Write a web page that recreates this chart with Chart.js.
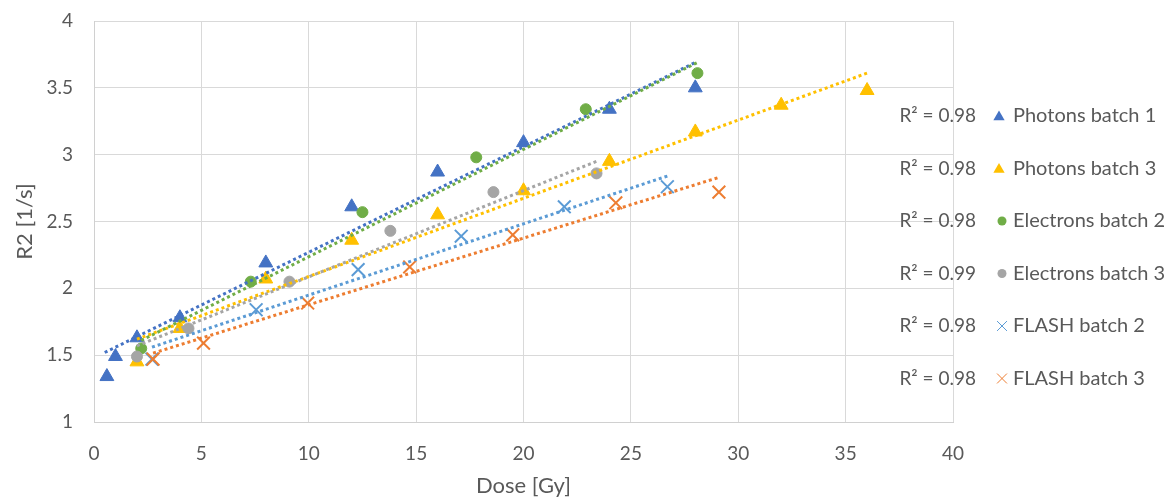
<!DOCTYPE html>
<html>
<head>
<meta charset="utf-8">
<script src="https://cdn.jsdelivr.net/npm/chart.js@4/dist/chart.umd.min.js"></script>
<style>
  html, body { margin: 0; padding: 0; background: #fff; }
  #wrap { width: 1169px; height: 497px; position: relative; }
</style>
</head>
<body>
<div id="wrap"><canvas id="r2-chart"></canvas></div>
<script>
// R2 relaxation rate vs dose, per beam / batch
const seriesNames = ['Photons batch 1', 'Photons batch 3', 'Electrons batch 2', 'Electrons batch 3', 'FLASH batch 2', 'FLASH batch 3'];
const rSquared = [0.98, 0.98, 0.98, 0.99, 0.98, 0.98];

const photons1Dose = [0.6, 1, 2, 4, 8, 12, 16, 20, 24, 28];
const photons1R2 = [1.34, 1.49, 1.63, 1.78, 2.19, 2.61, 2.87, 3.09, 3.34, 3.50];

const photons3Dose = [2, 4, 8, 12, 16, 20, 24, 28, 32, 36];
const photons3R2 = [1.45, 1.70, 2.07, 2.36, 2.55, 2.73, 2.95, 3.17, 3.37, 3.48];

const electrons2Dose = [2.2, 7.3, 12.5, 17.8, 22.9, 28.1];
const electrons2R2 = [1.55, 2.05, 2.57, 2.98, 3.34, 3.61];

const electrons3Dose = [2.0, 4.4, 9.1, 13.8, 18.6, 23.4];
const electrons3R2 = [1.49, 1.70, 2.05, 2.43, 2.72, 2.86];

const flash2Dose = [2.7, 7.55, 12.3, 17.1, 21.9, 26.7];
const flash2R2 = [1.47, 1.84, 2.14, 2.39, 2.61, 2.76];

const flash3Dose = [2.75, 5.1, 9.95, 14.7, 19.5, 24.3, 29.1];
const flash3R2 = [1.47, 1.59, 1.89, 2.16, 2.40, 2.64, 2.72];

// linear trendlines: [start, end] dose and R2
const trendDose = [[0.5, 28], [2, 36], [2.2, 28.1], [2, 23.4], [2.7, 26.7], [2.75, 29.1]];
const trendR2 = [[1.52, 3.69], [1.62, 3.61], [1.61, 3.69], [1.57, 2.95], [1.56, 2.84], [1.515, 2.83]];

const xTicks = [0, 5, 10, 15, 20, 25, 30, 35, 40];
const yTicks = [1, 1.5, 2, 2.5, 3, 3.5, 4];

const doses = [photons1Dose, photons3Dose, electrons2Dose, electrons3Dose, flash2Dose, flash3Dose];
const values = [photons1R2, photons3R2, electrons2R2, electrons3R2, flash2R2, flash3R2];

const colors = ['#4472C4', '#FFC000', '#70AD47', '#A5A5A5', '#5B9BD5', '#ED7D31'];
const styles = ['triangle', 'triangle', 'circle', 'circle', 'crossRot', 'crossRot'];
const radii = [8, 8, 5.5, 5.5, 9, 9];

const FONT = 'Lato, Carlito, "Open Sans", sans-serif';
const TEXT = '#595959';

const toPoints = (xs, ys) => xs.map((x, i) => ({ x, y: ys[i] }));

const pointSets = seriesNames.map((name, i) => ({
  label: name,
  data: toPoints(doses[i], values[i]),
  pointStyle: styles[i],
  pointRadius: radii[i],
  pointHoverRadius: radii[i],
  backgroundColor: colors[i],
  borderColor: colors[i],
  borderWidth: styles[i] === 'crossRot' ? 2 : 1,
  showLine: false,
  order: 20 - i
}));

const trendSets = seriesNames.map((name, i) => ({
  label: name + ' trend',
  data: toPoints(trendDose[i], trendR2[i]),
  showLine: true,
  pointRadius: 0,
  borderColor: colors[i],
  borderWidth: 3,
  borderDash: [3, 3],
  borderCapStyle: 'butt',
  fill: false,
  order: 6 - i
}));

// legend on the right with the R² of each fit
const sideLegend = {
  id: 'sideLegend',
  afterDraw(chart) {
    const ctx = chart.ctx;
    ctx.save();
    ctx.textBaseline = 'middle';
    seriesNames.forEach((name, i) => {
      const y = 116 + i * 52.5;
      ctx.fillStyle = TEXT;
      ctx.font = '19px ' + FONT;
      ctx.textAlign = 'right';
      ctx.fillText('R² = ' + rSquared[i].toFixed(2), 976, y);
      ctx.font = '20px ' + FONT;
      ctx.textAlign = 'left';
      ctx.fillText(name, 1013, y);
      ctx.fillStyle = colors[i];
      ctx.strokeStyle = colors[i];
      const small = styles[i] === 'triangle' ? 6.5 : styles[i] === 'circle' ? 4.5 : 7;
      Chart.helpers.drawPoint(ctx, {
        pointStyle: styles[i],
        radius: small,
        borderWidth: styles[i] === 'crossRot' ? 1.5 : 0,
        rotation: 0
      }, styles[i] === 'triangle' ? 999 : 1002, y + (styles[i] === 'triangle' ? 1 : 0));
    });
    ctx.restore();
  }
};

new Chart(document.getElementById('r2-chart'), {
  type: 'scatter',
  data: { datasets: [...trendSets, ...pointSets] },
  options: {
    responsive: true,
    maintainAspectRatio: false,
    animation: false,
    layout: { padding: { top: 21, right: 216, left: 0, bottom: 0 } },
    plugins: {
      legend: { display: false },
      tooltip: { enabled: false }
    },
    scales: {
      x: {
        type: 'linear',
        min: 0,
        max: 40,
        afterBuildTicks: s => { s.ticks = xTicks.map(v => ({ value: v })); },
        afterFit: s => { s.height = 75; s.paddingLeft = 0; s.paddingRight = 0; },
        grid: { color: '#D9D9D9', drawTicks: false },
        border: { color: '#D0D0D0' },
        ticks: { color: TEXT, font: { family: FONT, size: 19 }, padding: 20, maxRotation: 0, callback: v => String(v) },
        title: { display: true, text: 'Dose [Gy]', color: TEXT, font: { family: FONT, size: 22, lineHeight: 1 }, padding: 0 }
      },
      y: {
        type: 'linear',
        min: 1,
        max: 4,
        afterBuildTicks: s => { s.ticks = yTicks.map(v => ({ value: v })); },
        afterFit: s => { s.width = 94; s.paddingTop = 0; s.paddingBottom = 0; },
        grid: { color: '#D9D9D9', drawTicks: false },
        border: { color: '#D0D0D0' },
        ticks: { color: TEXT, font: { family: FONT, size: 19 }, padding: 21, callback: v => String(v) },
        title: { display: true, text: 'R2 [1/s]', color: TEXT, font: { family: FONT, size: 22, lineHeight: 1.2 }, padding: { top: 12, bottom: 0 } }
      }
    }
  },
  plugins: [sideLegend]
});
</script>
</body>
</html>
